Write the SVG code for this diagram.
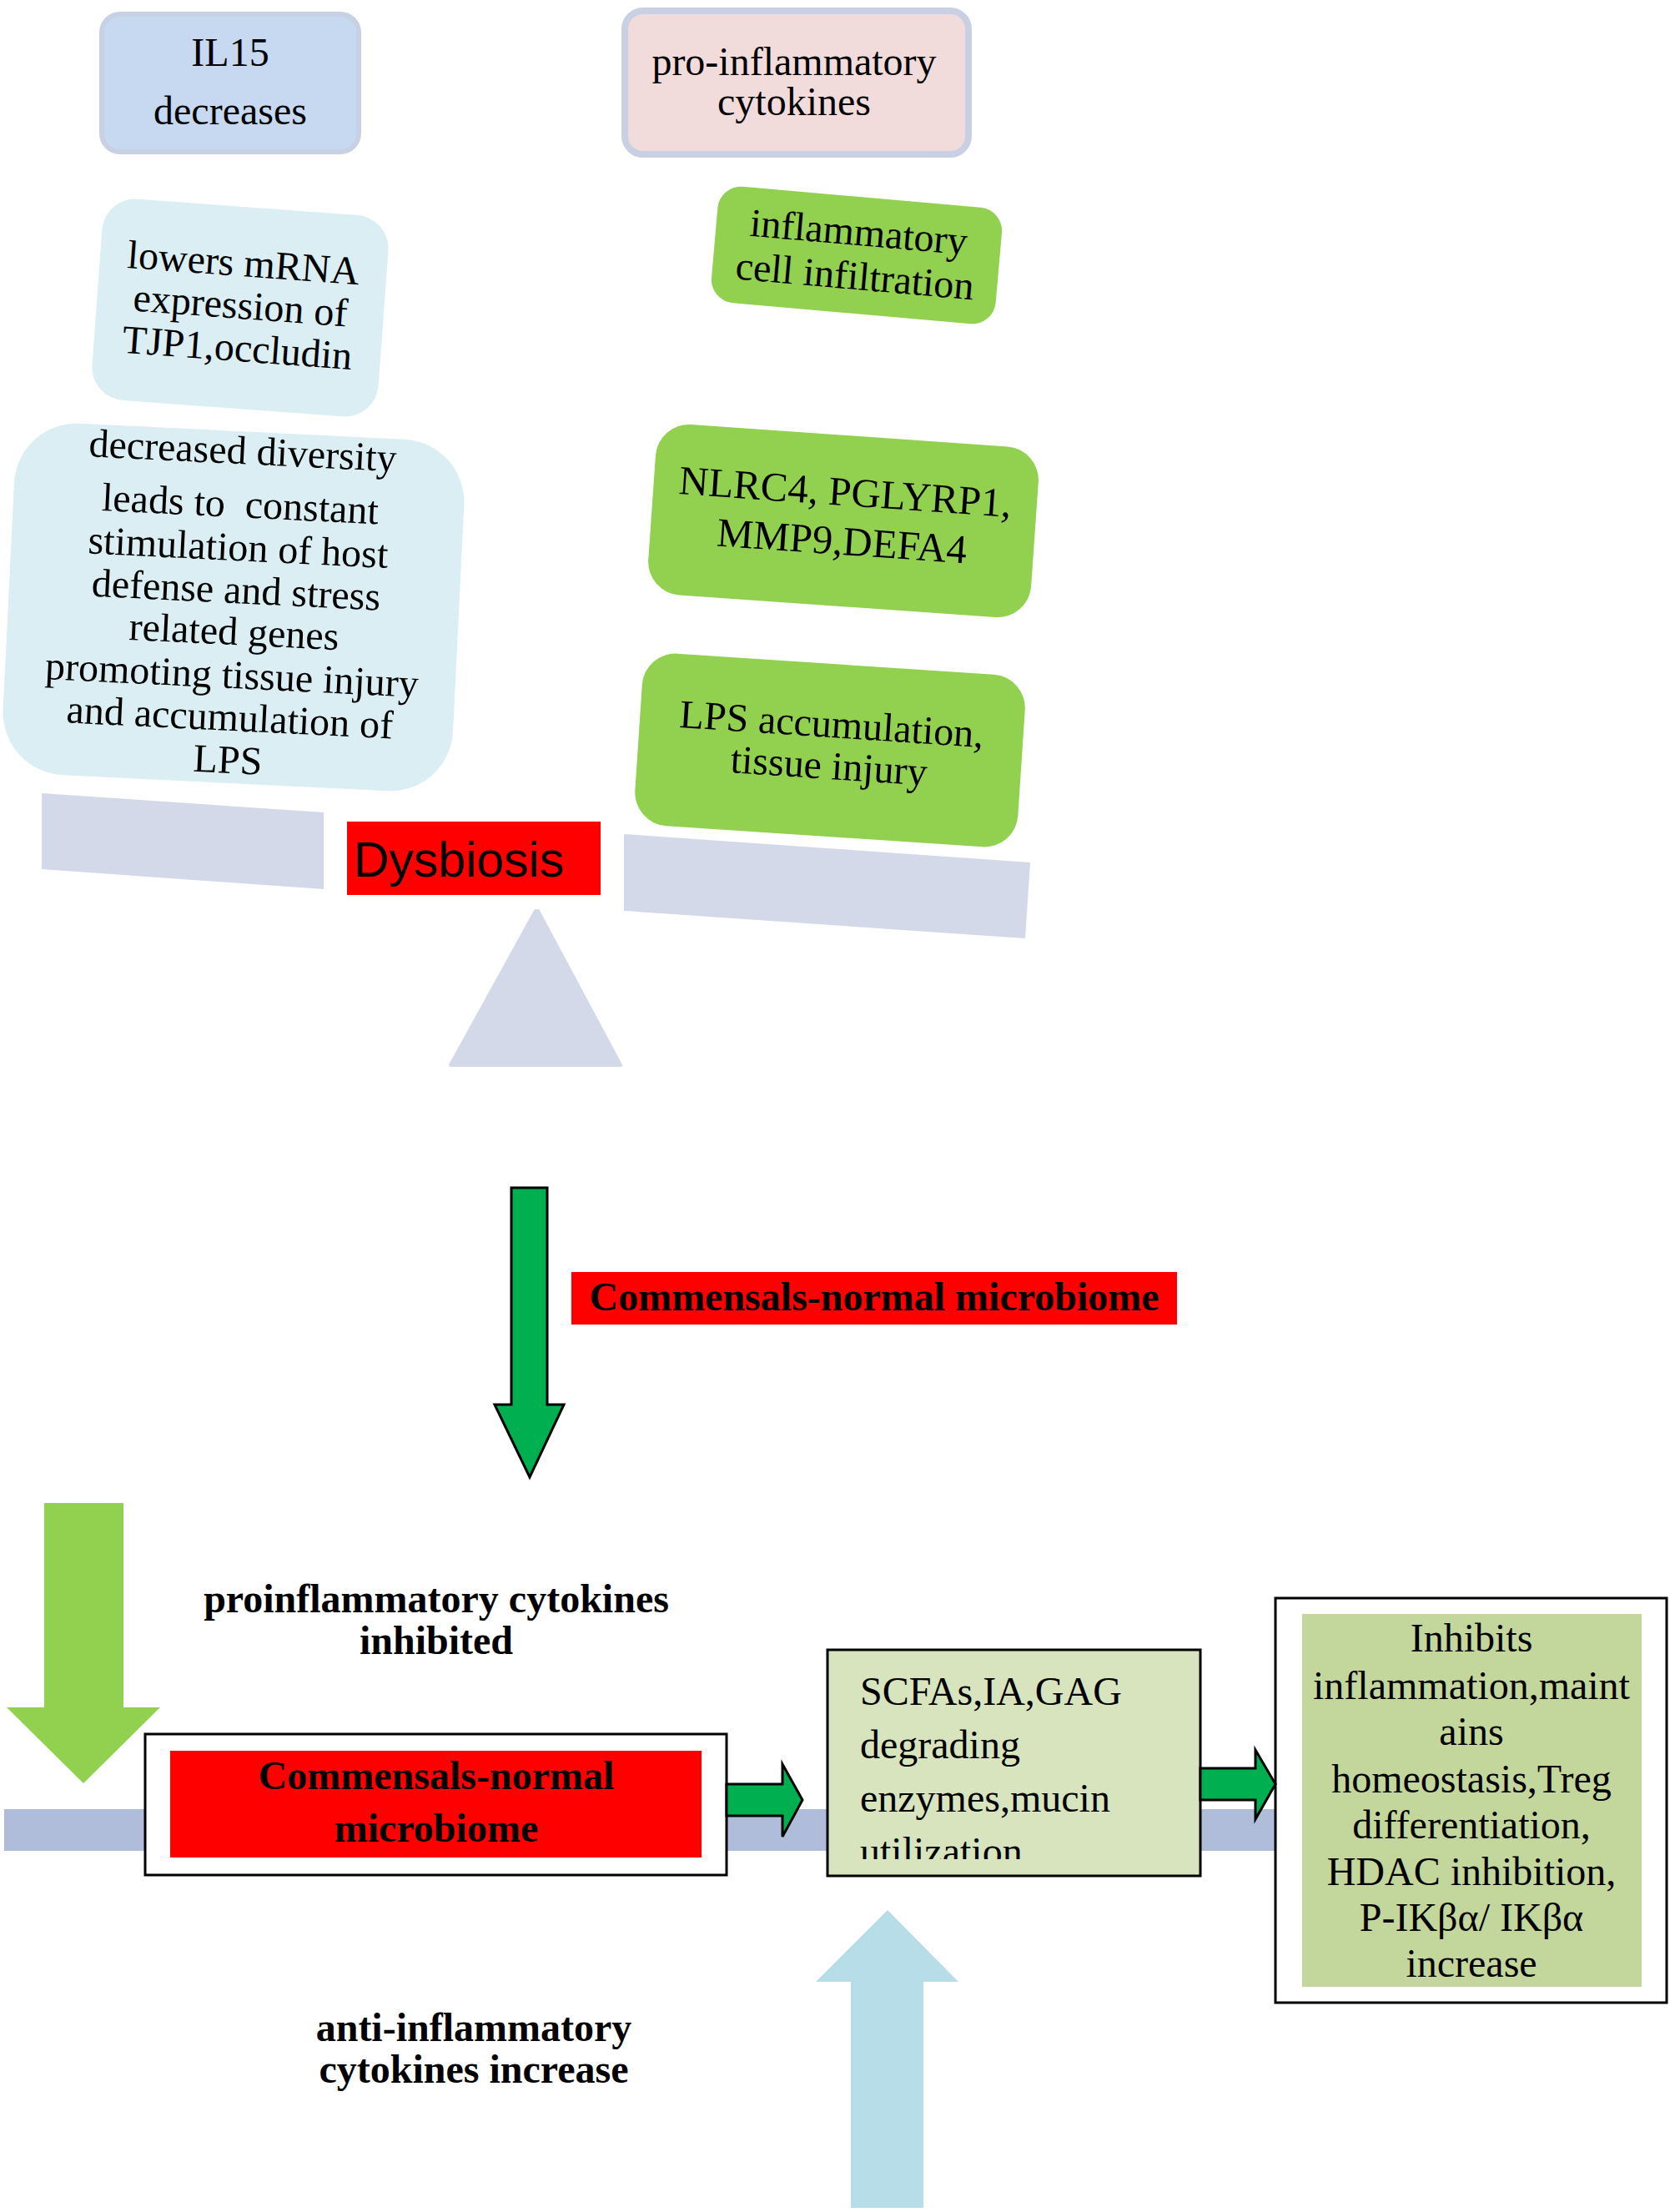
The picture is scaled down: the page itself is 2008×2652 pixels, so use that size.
<svg xmlns="http://www.w3.org/2000/svg" width="2008" height="2652" viewBox="0 0 2008 2652">
<style>
.s{font-family:"Liberation Serif","Times New Roman",serif;fill:#000;text-anchor:middle}
.f48{font-size:48px}
.f49{font-size:49px}
.b{font-weight:bold}
.blue{fill:#daeef3}
.green{fill:#92d050}
.plank{fill:#d3d9e8}
.arr{fill:#00b050;stroke:#000;stroke-width:3;stroke-linejoin:miter}
.box{stroke:#000;stroke-width:3}
</style>
<defs>
<clipPath id="scfaClip"><rect x="993" y="1980" width="445" height="249"/></clipPath>
</defs>
<rect width="2008" height="2652" fill="#fff"/>

<!-- balance scale -->
<g id="scale">
<polygon class="plank" points="50,951 388,974 388,1066 50,1042"/>
<polygon class="plank" points="748,1000 1235,1034 1229,1125 748,1092"/>
<polygon class="plank" points="642,1092 645,1092 744,1277 540,1277" stroke="#d3d9e8" stroke-width="4" stroke-linejoin="round"/>
</g>

<g id="il15">
<rect x="122" y="17" width="308" height="165" rx="22" fill="#c6d9f1" stroke="#c8d0e3" stroke-width="6"/>
<text class="s f48" x="276" y="79">IL15</text>
<text class="s f48" x="276" y="149">decreases</text>
</g>

<g id="proinflammatory">
<rect x="749" y="13" width="412" height="172" rx="22" fill="#f2dcdb" stroke="#c9d0e4" stroke-width="8"/>
<text class="s f48" x="952" y="90">pro-inflammatory</text>
<text class="s f48" x="952" y="138">cytokines</text>
</g>

<g id="lowers" transform="rotate(4.2 288 369)">
<rect class="blue" x="116" y="248" width="344" height="242" rx="40"/>
<text class="s f48" x="288" y="331">lowers mRNA</text>
<text class="s f48" x="288" y="382">expression of</text>
<text class="s f48" x="288" y="433">TJP1,occludin</text>
</g>

<g id="diversity" transform="rotate(2.8 280 728)">
<rect class="blue" x="10" y="517" width="540" height="422" rx="75"/>
<text class="s f48" x="282" y="556">decreased diversity</text>
<text class="s f48" x="282" y="620" xml:space="preserve">leads to  constant</text>
<text class="s f48" x="282" y="672">stimulation of host</text>
<text class="s f48" x="282" y="723">defense and stress</text>
<text class="s f48" x="282" y="773">related genes</text>
<text class="s f48" x="282" y="825">promoting tissue injury</text>
<text class="s f48" x="282" y="876">and accumulation of</text>
<text class="s f48" x="282" y="927">LPS</text>
</g>

<g id="infiltration" transform="rotate(5 1027 306)">
<rect class="green" x="856" y="236" width="342" height="140" rx="28"/>
<text class="s f48" x="1027" y="294">inflammatory</text>
<text class="s f48" x="1027" y="347">cell infiltration</text>
</g>

<g id="nlrc4" transform="rotate(4 1011 625)">
<rect class="green" x="781" y="522" width="460" height="205" rx="40"/>
<text class="s f49" x="1011" y="606">NLRC4, PGLYRP1,</text>
<text class="s f49" x="1011" y="665">MMP9,DEFA4</text>
</g>

<g id="lps" transform="rotate(3.8 995 900)">
<rect class="green" x="765" y="796" width="460" height="207" rx="40"/>
<text class="s f48" x="995" y="884">LPS accumulation,</text>
<text class="s f48" x="995" y="934">tissue injury</text>
</g>

<g id="dysbiosis">
<rect x="416" y="985" width="304" height="88" fill="#ff0000"/>
<text x="424" y="1051" style="font-family:'Liberation Sans',Arial,sans-serif;font-size:59px" fill="#000">Dysbiosis</text>
</g>

<g id="commensals-label">
<rect x="685" y="1525" width="726" height="63" fill="#ff0000"/>
<text class="s b f48" x="1048" y="1571">Commensals-normal microbiome</text>
</g>

<!-- horizontal bar -->
<rect id="bar" x="5" y="2169" width="1526" height="50" fill="#afbdda"/>

<g id="label-proinflammatory">
<text class="s b f48" x="523" y="1933">proinflammatory cytokines</text>
<text class="s b f48" x="523" y="1983">inhibited</text>
</g>

<g id="label-anti">
<text class="s b f48" x="568" y="2447">anti-inflammatory</text>
<text class="s b f48" x="568" y="2497">cytokines increase</text>
</g>

<g id="commensals-box">
<rect class="box" x="174" y="2079" width="697" height="169" fill="#fff"/>
<rect x="204" y="2099" width="637" height="128" fill="#ff0000"/>
<text class="s b f48" x="523" y="2145">Commensals-normal</text>
<text class="s b f48" x="523" y="2208">microbiome</text>
</g>

<g id="scfa">
<rect class="box" x="992" y="1978" width="447" height="271" fill="#d7e4bd"/>
<g clip-path="url(#scfaClip)" style="font-family:'Liberation Serif','Times New Roman',serif;font-size:48px">
<text x="1031" y="2044">SCFAs,IA,GAG</text>
<text x="1031" y="2108">degrading</text>
<text x="1031" y="2172">enzymes,mucin</text>
<text x="1031" y="2236">utilization</text>
</g>
</g>

<g id="effects">
<rect class="box" x="1529" y="1916" width="469" height="485" fill="#fff"/>
<rect x="1561" y="1935" width="407" height="447" fill="#c3d69b"/>
<text class="s f48" x="1764" y="1980">Inhibits</text>
<text class="s f48" x="1764" y="2037">inflammation,maint</text>
<text class="s f48" x="1764" y="2092">ains</text>
<text class="s f48" x="1764" y="2149">homeostasis,Treg</text>
<text class="s f48" x="1764" y="2204">differentiation,</text>
<text class="s f48" x="1764" y="2260">HDAC inhibition,</text>
<text class="s f48" x="1764" y="2315">P-IKβα/ IKβα</text>
<text class="s f48" x="1764" y="2370">increase</text>
</g>

<g id="connectors">
<polygon class="arr" points="613,1424 656,1424 656,1684 676,1684 635,1771 593,1684 613,1684"/>
<polygon fill="#92d050" points="53,1802 148,1802 148,2047 192,2047 100,2138 8,2047 53,2047"/>
<polygon fill="#b7dde8" points="1064,2290 1149,2376 1107,2376 1107,2647 1020,2647 1020,2376 978,2376"/>
<polygon class="arr" points="871,2139 938,2139 938,2115 962,2158 938,2202 938,2177 871,2177"/>
<polygon class="arr" points="1439,2120 1505,2120 1505,2098 1529,2139 1505,2181 1505,2158 1439,2158"/>
</g>
</svg>
